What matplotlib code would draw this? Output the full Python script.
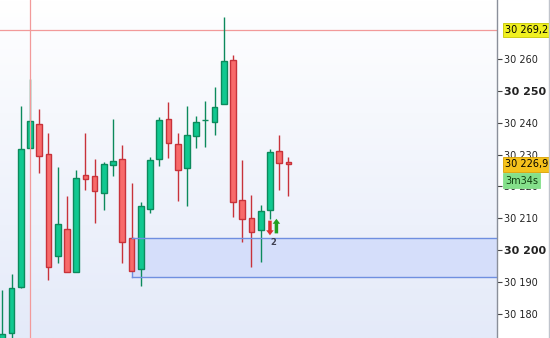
import matplotlib
matplotlib.use("Agg")
import matplotlib.pyplot as plt
import numpy as np
from matplotlib.transforms import blended_transform_factory
from matplotlib.colors import LinearSegmentedColormap

# ---- data ----
opens  = [30168.0, 30174.0, 30188.3, 30232.0, 30239.6, 30230.1, 30198.2, 30206.5,
          30193.0, 30223.6, 30223.2, 30218.0, 30226.6, 30228.5, 30203.7, 30193.9,
          30212.9, 30228.5, 30241.2, 30233.2, 30225.7, 30235.8, 30240.8, 30240.2,
          30245.8, 30259.6, 30215.6, 30209.9, 30206.3, 30212.5, 30231.0, 30227.6]
highs  = [30187.4, 30192.5, 30245.3, 30253.8, 30244.3, 30236.7, 30226.2, 30217.0,
          30225.2, 30236.7, 30228.6, 30227.6, 30241.2, 30233.0, 30221.2, 30215.2,
          30229.3, 30241.9, 30246.4, 30236.9, 30245.3, 30242.1, 30246.9, 30251.2,
          30273.4, 30261.2, 30228.3, 30217.3, 30214.2, 30231.7, 30236.2, 30229.2]
lows   = [30165.0, 30172.0, 30188.0, 30232.0, 30224.3, 30190.4, 30195.8, 30193.0,
          30193.0, 30218.9, 30208.4, 30212.4, 30223.4, 30195.8, 30193.5, 30188.7,
          30211.5, 30226.5, 30229.0, 30215.4, 30213.9, 30232.2, 30232.5, 30236.0,
          30245.8, 30210.5, 30202.4, 30194.6, 30196.3, 30209.6, 30218.9, 30217.1]
closes = [30173.6, 30188.0, 30231.7, 30240.5, 30229.6, 30194.6, 30208.1, 30193.0,
          30222.5, 30222.4, 30218.4, 30227.0, 30227.9, 30202.4, 30193.5, 30213.8,
          30228.3, 30240.9, 30233.6, 30225.1, 30236.2, 30240.2, 30241.0, 30245.1,
          30259.3, 30215.0, 30209.6, 30205.6, 30212.2, 30230.7, 30227.3, 30226.9]

tick_prices = [30180, 30190, 30200, 30210, 30220, 30230, 30240, 30250, 30260]
tick_labels = ["30 180", "30 190", "30 200", "30 210", "30 220", "30 230",
               "30 240", "30 250", "30 260"]
bold_ticks = [30200, 30250]

hline_price = 30269.2
hline_label = "30 269,2"
last_label = "30 226,9"
timer_label = "3m34s"
vline_index = 3
zone_start = 14
zone_top, zone_bottom = 30203.7, 30191.6
signal_index = 29.1
signal_text = "2"

# ---- figure ----
W, H = 550, 338
fig = plt.figure(figsize=(W / 100, H / 100), dpi=100)
fig.patch.set_facecolor("white")
ax = fig.add_axes([0, 0, 497 / W, 1])

ymin, ymax = 30172.3, 30278.6
xl, xr = -0.25, 53.6

# background gradient (white at top, light blue at bottom)
grad = np.linspace(1, 0, 256).reshape(-1, 1)
cmap = LinearSegmentedColormap.from_list("bg", ["#ffffff", "#e4eaf9"])
ax.imshow(grad, extent=[xl, xr, ymin, ymax], aspect="auto", cmap=cmap,
          origin="lower", zorder=0)
ax.set_xlim(xl, xr)
ax.set_ylim(ymin, ymax)

# zone rectangle
ax.fill_between([zone_start, xr], zone_bottom, zone_top, facecolor="#d2dcfa",
                edgecolor="none", alpha=0.85, zorder=1)
ax.plot([zone_start, xr], [zone_top, zone_top], color="#6f8fe0", lw=1.0, zorder=4)
ax.plot([zone_start, xr], [zone_bottom, zone_bottom], color="#6f8fe0", lw=1.0, zorder=4)
ax.plot([zone_start, zone_start], [zone_bottom, zone_top], color="#6f8fe0", lw=1.0, zorder=1.5)

# crosshair lines
ax.axhline(hline_price, color="#f29a9a", lw=0.9, zorder=1.2)
ax.axvline(vline_index, color="#f29a9a", lw=0.9, zorder=3.5)

# candles
bw = 0.62
for i, (o, h, l, c) in enumerate(zip(opens, highs, lows, closes)):
    up = c >= o
    face = "#10c890" if up else "#f86a6a"
    edge = "#0c8a5c" if up else "#c8323a"
    ax.vlines(i, l, h, color=edge, lw=1.0, zorder=2)
    lo, hi = min(o, c), max(o, c)
    if hi - lo < 0.3:
        ax.hlines(o, i - bw / 2, i + bw / 2, color=edge, lw=1.0, zorder=3)
    else:
        ax.add_patch(plt.Rectangle((i - bw / 2, lo), bw, hi - lo, facecolor=face,
                                   edgecolor=edge, lw=1.0, zorder=3))

# signal arrows
astyle = "simple,head_width=0.6,head_length=0.4,tail_width=0.28"
ax.annotate("", xy=(signal_index - 0.1, 30204.6), xytext=(signal_index - 0.1, 30209.2),
            arrowprops=dict(arrowstyle=astyle, color="#e03030", lw=0,
                            shrinkA=0, shrinkB=0, mutation_scale=9), zorder=5)
ax.annotate("", xy=(signal_index + 0.6, 30209.8), xytext=(signal_index + 0.6, 30205.2),
            arrowprops=dict(arrowstyle=astyle, color="#20a020", lw=0,
                            shrinkA=0, shrinkB=0, mutation_scale=9), zorder=5)
ax.text(signal_index + 0.3, 30202.3, signal_text, fontsize=6, color="#404050",
        ha="center", va="center", fontweight="bold", zorder=5)

# axes / ticks
ax.set_xticks([])
for s in ["top", "left", "bottom"]:
    ax.spines[s].set_visible(False)
ax.spines["right"].set_color("#8a8f9a")
ax.spines["right"].set_linewidth(1.0)
ax.yaxis.tick_right()
ax.set_yticks(tick_prices)
ax.set_yticklabels(tick_labels)
ax.tick_params(axis="y", direction="out", length=3.5, width=0.8, color="#444444",
               labelsize=7, pad=1.5, labelcolor="#222222")
for lab, p in zip(ax.get_yticklabels(), tick_prices):
    if p in bold_ticks:
        lab.set_fontweight("bold")
        lab.set_fontsize(8)

trans = blended_transform_factory(ax.transAxes, ax.transData)
x0 = 1 + 8 / 497
ax.text(x0, hline_price, hline_label, transform=trans, fontsize=7, va="center",
        ha="left", color="black", clip_on=False, zorder=10,
        bbox=dict(boxstyle="square,pad=0.22", facecolor="#f0f020", edgecolor="#c8c800", lw=0.6))
ax.text(x0, closes[-1], last_label, transform=trans, fontsize=7, va="center",
        ha="left", color="black", clip_on=False, zorder=10,
        bbox=dict(boxstyle="square,pad=0.22", facecolor="#f5c21c", edgecolor="#d8a000", lw=0.6))
ax.text(x0, closes[-1] - 5.2, timer_label, transform=trans, fontsize=7, va="center",
        ha="left", color="#104010", clip_on=False, zorder=10,
        bbox=dict(boxstyle="square,pad=0.25", facecolor="#84e08a", edgecolor="#84e08a", lw=0.6))

# right border line
fig.add_artist(plt.Line2D([548.5 / W, 548.5 / W], [0, 1], color="#c0c4cc", lw=1.0))

fig.savefig("out.png", dpi=100)
